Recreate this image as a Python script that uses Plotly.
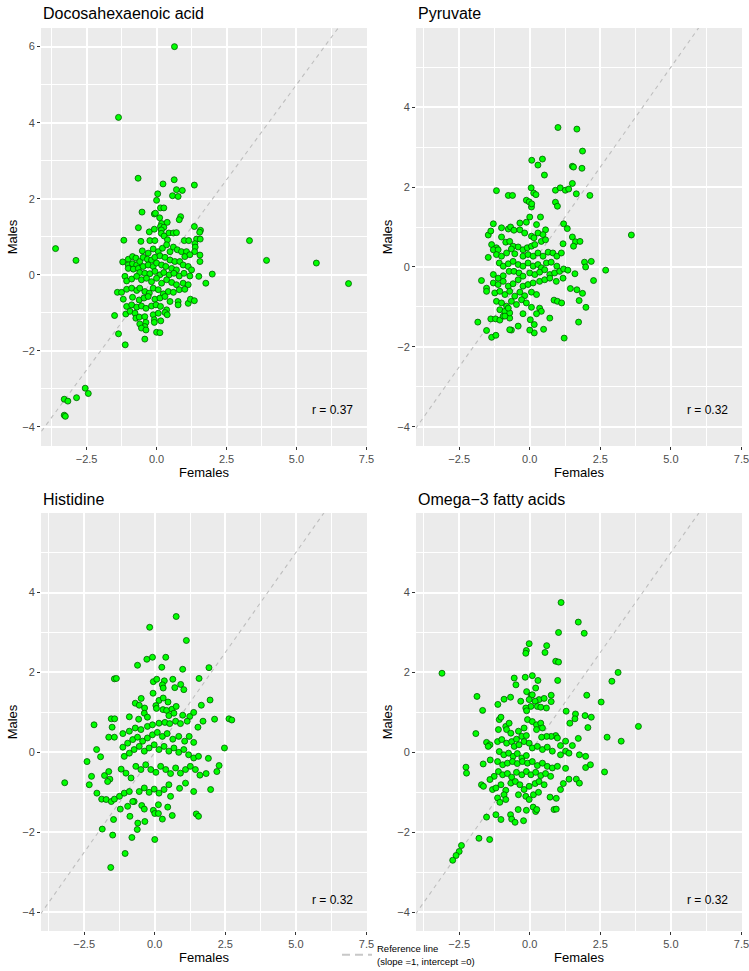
import plotly.graph_objects as go

W, H = 749, 971
FONT = "Liberation Sans, Arial, Helvetica, sans-serif"

# ---------------- data (Females, Males) ----------------
dha_points = [
    (-0.66, 2.54), (0.63, 2.5), (0.23, 2.39), (1.35, 2.36), (0.04, 2.13), (0.71, 2.24), (0.92, 2.22),
    (0.57, 2.08), (0.77, 2.06), (0.0, 1.96), (0.14, 1.76), (0.26, 1.76), (-0.52, 1.65), (-0.08, 1.6),
    (-0.04, 1.62), (0.11, 1.5), (0.86, 1.53), (0.81, 1.45), (0.18, 1.35), (0.38, 1.38), (0.14, 1.27),
    (0.26, 1.25), (-0.65, 1.24), (-0.26, 1.13), (-0.08, 1.2), (0.17, 1.18), (0.17, 1.09), (0.44, 1.1),
    (0.6, 1.1), (0.71, 1.11), (0.27, 1.02), (1.35, 1.27), (1.57, 1.17), (1.54, 1.12), (-1.17, 0.91),
    (-0.56, 0.88), (-0.24, 0.9), (-0.06, 0.9), (0.39, 0.92), (0.99, 0.9), (1.15, 0.9), (1.43, 0.94),
    (1.56, 0.94), (1.37, 0.82), (1.38, 0.73), (1.36, 0.61),
    (-0.51, 0.63), (-0.3, 0.57), (-0.12, 0.68), (0.06, 0.61), (0.21, 0.7), (0.36, 0.79), (0.48, 0.61),
    (0.6, 0.73), (0.74, 0.66), (0.89, 0.61), (1.07, 0.61), (1.01, 0.48), (1.19, 0.53), (1.55, 0.52),
    (1.55, 0.35), (-1.21, 0.34), (-1.01, 0.41), (-0.86, 0.48), (-0.74, 0.44), (-1.01, 0.26),
    (-0.86, 0.29), (-0.71, 0.26), (-1.01, 0.17), (-0.83, 0.15), (-0.65, 0.17),
    (-0.6, 0.35), (-0.48, 0.46), (-0.33, 0.41), (-0.18, 0.39), (-0.06, 0.46), (0.12, 0.5), (0.3, 0.46),
    (0.48, 0.39), (0.65, 0.35), (0.83, 0.35), (0.95, 0.26), (1.13, 0.22), (1.25, 0.13),
    (-0.48, 0.22), (-0.3, 0.26), (-0.12, 0.22), (0.0, 0.31), (0.18, 0.26), (0.33, 0.22), (0.54, 0.17),
    (0.71, 0.13), (-0.6, 0.06), (-0.42, 0.04), (-0.24, 0.03), (-0.06, 0.09), (0.12, 0.0), (0.26, 0.06),
    (0.45, 0.0), (0.62, 0.04), (0.81, -0.03), (0.98, 0.04), (1.19, -0.03), (1.51, -0.04), (1.99, 0.02),
    (-1.13, -0.04), (-1.07, -0.16), (-0.89, -0.11),
    (-0.71, -0.04), (-0.54, -0.13), (-0.36, -0.09), (-0.18, -0.18), (0.0, -0.09), (0.18, -0.22),
    (0.36, -0.13), (0.54, -0.2), (0.71, -0.26), (0.95, -0.22), (1.13, -0.26), (1.76, -0.22),
    (-1.4, -0.46), (-1.25, -0.46),
    (-1.07, -0.38), (-0.89, -0.35), (-0.71, -0.41), (-0.6, -0.35), (-0.42, -0.44), (-0.26, -0.48),
    (-0.12, -0.35), (0.06, -0.39), (0.24, -0.5), (0.42, -0.44), (0.6, -0.46), (0.81, -0.39), (1.01, -0.38),
    (-1.19, -0.64), (-0.86, -0.59), (-0.62, -0.66), (-0.45, -0.61), (-0.3, -0.57), (-0.06, -0.64),
    (0.12, -0.61), (0.3, -0.57), (0.48, -0.7),
    (0.77, -0.7), (0.77, -0.79), (1.13, -0.75), (1.21, -0.64), (1.35, -0.68),
    (-1.07, -0.83), (-0.89, -0.79), (-0.71, -0.85), (-0.54, -0.82), (-0.38, -0.88), (-0.18, -0.82),
    (-0.02, -0.79), (0.14, -0.83), (0.36, -0.92),
    (-1.1, -1.03), (-0.95, -0.96), (-0.77, -1.01), (-0.12, -1.05), (0.06, -1.01), (0.3, -0.99), (0.38, -1.05),
    (-1.5, -1.07), (-0.74, -1.14), (-0.62, -1.11), (-0.42, -1.1), (-0.08, -1.18),
    (-0.38, -1.25), (-0.6, -1.29), (-0.42, -1.36), (-0.54, -1.4), (-0.38, -1.45),
    (-0.08, -1.25), (0.15, -1.21), (0.0, -1.51), (0.12, -1.52), (-1.36, -1.55), (-0.42, -1.69), (-1.12, -1.84),
    (0.64, 6.0), (-1.36, 4.14), (-3.61, 0.69), (-2.88, 0.38), (3.32, 0.9), (3.93, 0.38), (5.71, 0.31),
    (6.86, -0.23), (-3.3, -3.27), (-3.17, -3.32), (-2.86, -3.23), (-2.55, -2.98), (-2.44, -3.12),
    (-3.3, -3.69), (-3.26, -3.72),
]

pyruvate_points = [
    (1.0, 3.49), (1.67, 3.45), (1.87, 2.9), (0.07, 2.67), (0.45, 2.7), (0.29, 2.55), (1.51, 2.52),
    (1.55, 2.5), (1.85, 2.47), (0.52, 2.3), (1.51, 2.09), (-1.18, 1.91), (-0.76, 1.79), (-0.61, 1.79),
    (0.05, 1.98), (0.14, 1.85), (0.22, 1.81), (0.91, 1.92), (1.08, 1.98), (1.26, 1.92), (1.38, 1.95),
    (1.65, 1.83), (2.13, 1.79), (-0.12, 1.67), (-0.02, 1.63), (0.06, 1.5), (0.07, 1.58), (0.91, 1.62),
    (0.98, 1.52), (1.2, 1.08), (1.33, 0.96), (3.6, 0.8), (1.51, 0.75), (1.62, 0.63), (1.78, 0.64),
    (1.55, 0.52), (1.18, 0.58), (1.94, 0.12), (2.18, 0.14), (1.98, 0.0), (2.69, -0.08), (1.6, -0.17),
    (2.26, -0.34), (1.44, -0.54), (1.67, -0.57), (1.87, -0.66), (1.75, -0.84), (1.99, -1.01),
    (0.86, -0.83), (0.98, -0.86), (1.13, -0.9), (1.73, -1.38), (1.22, -1.78), (0.71, -1.28),
    (0.49, -1.56), (0.16, -1.44), (0.16, -1.65), (0.0, -1.58), (-1.84, -1.38), (-1.53, -1.59),
    (-1.35, -1.76), (-1.2, -1.71), (-1.38, -1.3), (-1.21, -1.3), (-1.06, -1.33), (-0.94, -1.23),
    (-0.71, -1.28), (-0.65, -1.58), (-0.41, -1.48), (-0.24, -1.17), (-1.71, -0.34), (-1.53, -0.53),
    (-1.53, -0.61), (-1.47, 0.24), (-1.47, 0.8), (-1.38, 0.9), (-1.29, 1.08), (-1.0, 0.98),
    (-0.76, 0.95), (-0.68, 1.0), (-0.56, 0.92), (-1.35, 0.56), (-1.18, 0.48), (-1.0, 0.75),
    (-0.85, 0.62), (-0.71, 0.64), (-0.59, 0.52), (-0.35, 1.1), (-0.12, 1.12), (0.0, 1.25), (0.24, 1.06),
    (0.38, 1.25), (0.56, 0.93), (-0.35, 0.93), (-0.18, 0.85), (0.06, 0.77), (0.15, 0.73), (0.29, 0.85),
    (0.47, 0.81), (-0.41, 0.5), (-0.24, 0.43), (-0.09, 0.48), (0.06, 0.52), (0.18, 0.56), (0.41, 0.64),
    (0.56, 0.68), (-1.29, 0.43), (-1.12, 0.43), (-1.18, 0.31), (-1.0, 0.27), (-0.82, 0.35), (-0.65, 0.45),
    (-0.53, 0.33), (-0.24, 0.27), (-0.06, 0.31), (0.12, 0.27), (0.29, 0.35), (0.47, 0.27), (0.65, 0.37),
    (0.82, 0.35), (0.96, 0.27), (1.12, 0.35), (-1.08, 0.1), (-0.94, 0.02), (-0.76, 0.08), (-0.59, 0.14),
    (-0.41, 0.06), (-0.24, 0.02), (-0.06, 0.1), (0.12, 0.02), (0.29, 0.06), (0.41, -0.02), (0.59, 0.1),
    (0.76, 0.12), (0.96, 0.02), (-1.29, -0.19), (-1.12, -0.28), (-0.94, -0.22), (-0.73, -0.11),
    (-0.56, -0.11), (-0.38, -0.15), (-0.24, -0.23), (0.0, -0.15), (0.18, -0.19), (0.35, -0.13),
    (0.53, -0.07), (0.71, -0.19), (0.88, -0.15), (1.06, -0.11), (1.2, -0.05), (1.35, -0.08),
    (-1.29, -0.4), (-1.12, -0.44), (-0.94, -0.36), (-0.76, -0.48), (-0.59, -0.42), (-0.41, -0.32),
    (-0.24, -0.48), (-0.06, -0.44), (0.12, -0.4), (0.35, -0.36), (0.53, -0.32), (0.71, -0.28),
    (0.94, -0.36), (1.18, -0.28), (-1.24, -0.65), (-1.06, -0.61), (-0.88, -0.69), (-0.71, -0.61),
    (-0.53, -0.73), (-0.35, -0.63), (-0.18, -0.72), (0.06, -0.63), (0.24, -0.69), (-1.18, -0.86),
    (-1.0, -0.9), (-0.82, -0.98), (-0.65, -0.86), (-0.47, -0.94), (-0.29, -0.82), (-0.12, -0.9),
    (0.06, -1.01), (0.35, -1.03), (-1.06, -1.07), (-0.88, -1.11), (-0.71, -1.15), (-0.88, -1.23),
    (-0.76, -1.03), (0.41, -1.11), (-0.71, -1.57), (0.02, -1.32), (0.24, -1.17),
]

histidine_points = [
    (0.76, 3.4), (-0.18, 3.13), (1.12, 2.8), (-0.61, 2.18), (-0.28, 2.33), (-0.08, 2.38), (0.39, 2.38),
    (0.25, 2.13), (0.99, 2.08), (1.92, 2.12), (-1.43, 1.84), (-1.36, 1.85), (-0.05, 1.77), (0.07, 1.83),
    (0.34, 1.79), (0.64, 1.83), (0.27, 1.69), (0.3, 1.61), (0.71, 1.62), (0.92, 1.7), (1.03, 1.57),
    (1.57, 1.85), (-0.06, 1.48), (-0.48, 1.35), (0.15, 1.3), (0.3, 1.36), (0.47, 1.26), (-0.69, 1.23),
    (-0.55, 1.18), (-0.36, 1.11), (0.04, 1.17), (0.06, 1.1), (1.96, 1.31), (1.65, 1.18), (0.29, 1.07),
    (0.42, 1.05), (0.61, 1.08), (0.76, 1.15), (-2.15, 0.69), (-1.54, 0.84), (-1.42, 0.84), (-1.51, 0.63),
    (-0.9, 0.89), (-0.57, 0.83), (-0.37, 0.98), (-0.26, 0.88), (0.5, 0.92), (0.68, 0.98), (0.99, 0.93),
    (1.24, 0.9), (1.38, 1.0), (1.71, 0.78), (2.12, 0.83), (2.63, 0.84), (2.73, 0.81), (1.53, 0.63),
    (2.47, 0.11), (-1.63, 0.38), (-1.43, 0.38), (-1.13, 0.47), (-0.9, 0.53), (-0.69, 0.61), (-0.49, 0.57),
    (-0.26, 0.65), (-0.08, 0.69), (0.15, 0.73), (0.36, 0.75), (0.53, 0.72), (0.74, 0.78), (0.91, 0.72),
    (1.15, 0.78), (-2.06, 0.07), (-1.92, -0.11), (-2.4, -0.23),
    (-1.13, 0.13), (-0.96, 0.23), (-0.78, 0.32), (-0.61, 0.38), (-0.43, 0.28), (-0.26, 0.36), (-0.08, 0.44),
    (0.09, 0.5), (0.27, 0.4), (0.44, 0.47), (0.64, 0.33), (0.85, 0.4), (1.06, 0.28), (1.22, 0.4), (1.38, 0.25),
    (-1.08, -0.1), (-0.9, -0.02), (-0.73, 0.07), (-0.55, 0.15), (-0.37, 0.03), (-0.2, 0.11), (-0.02, 0.19),
    (0.15, 0.07), (0.33, 0.15), (0.5, 0.03), (0.68, 0.11), (0.85, 0.0), (1.03, 0.07), (1.2, -0.06),
    (1.38, -0.14), (1.55, -0.1), (1.9, -0.15), (2.28, -0.33), (2.2, -0.48), (1.82, -0.53), (1.6, -0.57),
    (-2.24, -0.6), (-2.32, -0.81), (-1.78, -0.58), (-1.63, -0.48), (-1.59, -0.67), (-1.67, -0.73),
    (-1.19, -0.42), (-1.02, -0.52), (-0.84, -0.64), (-0.67, -0.35), (-0.49, -0.43), (-0.32, -0.31),
    (-0.14, -0.43), (0.04, -0.5), (0.21, -0.35), (0.39, -0.43), (0.56, -0.53), (0.74, -0.39),
    (0.91, -0.52), (1.09, -0.43), (1.26, -0.35), (1.44, -0.43),
    (-2.05, -1.02), (-1.88, -1.17), (-1.72, -1.18), (-1.54, -1.23), (-1.43, -1.17), (-1.25, -1.1),
    (-1.08, -1.02), (-0.9, -0.98), (-0.73, -1.23), (-0.55, -0.98), (-0.37, -0.89), (-0.2, -1.0),
    (-0.02, -0.92), (0.15, -1.02), (0.33, -0.93), (0.5, -0.81), (0.56, -1.1), (0.88, -0.9), (1.09, -0.77),
    (1.38, -0.98), (1.98, -0.93), (-1.22, -1.42), (-0.96, -1.35), (-0.78, -1.23), (-0.46, -1.33),
    (-0.37, -1.42), (-0.05, -1.45), (0.13, -1.31), (0.46, -1.37), (-1.46, -1.68), (-0.88, -1.6),
    (-0.6, -1.77), (-0.35, -1.73), (0.0, -1.53), (0.13, -1.53), (0.27, -1.67), (0.62, -1.58),
    (1.47, -1.54), (1.55, -1.6), (-1.86, -1.92), (-1.49, -2.07), (-0.81, -2.13), (-0.62, -1.93),
    (0.0, -2.18), (-1.05, -2.53), (-1.56, -2.88), (-3.19, -0.76),
]

omega3_points = [
    (1.11, 3.75), (1.72, 3.26), (1.02, 3.0), (1.93, 2.98), (-0.02, 2.72), (-0.12, 2.55), (-0.14, 2.48),
    (0.6, 2.67), (0.54, 2.5), (0.92, 2.28), (1.02, 2.26), (-3.11, 1.98), (3.13, 2.0), (2.91, 1.78),
    (-0.55, 1.86), (-0.16, 1.88), (0.09, 1.92), (0.29, 1.8), (0.99, 1.8), (-0.49, 1.69), (0.21, 1.61),
    (-1.87, 1.4), (-0.11, 1.52), (0.05, 1.43), (2.02, 1.43), (-1.67, 1.05), (-1.13, 1.2), (-0.91, 1.33),
    (-0.68, 1.38), (-0.32, 1.28), (0.09, 1.44), (0.33, 1.32), (0.51, 1.35), (0.76, 1.43), (0.76, 1.27),
    (-0.02, 1.32), (0.19, 1.28), (0.27, 1.15), (0.04, 1.15), (-0.14, 1.11), (0.39, 1.13), (0.59, 1.11),
    (2.53, 1.26), (1.29, 1.03), (1.62, 0.96), (1.6, 0.84), (1.96, 0.92), (2.18, 0.88), (1.42, 0.73),
    (-1.91, 0.47), (-1.08, 0.82), (-1.02, 0.88), (-1.11, 0.57), (-0.85, 0.65), (-0.73, 0.73),
    (-0.82, 0.57), (-0.67, 0.48), (-0.4, 0.53), (-0.2, 0.61), (-0.08, 0.82), (-0.11, 1.04), (0.09, 0.77),
    (0.24, 0.69), (0.39, 0.73), (0.24, 0.57), (0.45, 0.61), (0.92, 0.42), (0.76, 0.4), (0.6, 0.4),
    (0.42, 0.38), (2.06, 0.62), (2.74, 0.38), (3.24, 0.28), (3.85, 0.65), (1.72, 0.35), (1.51, 0.17),
    (1.27, 0.28), (1.09, 0.17), (0.98, 0.36), (-1.53, 0.25), (-1.41, 0.19), (-1.47, 0.15),
    (-1.14, 0.27), (-0.99, 0.32), (-0.82, 0.23), (-0.64, 0.27), (-0.47, 0.33), (-0.28, 0.4), (-0.12, 0.42),
    (-0.55, 0.15), (-0.38, 0.19), (-0.2, 0.27), (-0.02, 0.23), (0.09, 0.11), (0.27, 0.15), (0.45, 0.07),
    (0.62, 0.13), (0.8, 0.03), (1.09, -0.06), (1.27, 0.03), (1.39, -0.02), (1.76, -0.06), (1.98, -0.1),
    (-1.4, -0.19), (-1.08, 0.02), (-0.92, -0.06), (-0.75, -0.02), (-0.59, -0.1), (-0.44, -0.03),
    (-0.28, -0.14), (-0.12, -0.08), (-2.26, -0.37), (-2.24, -0.52), (-1.65, -0.29),
    (-1.14, -0.23), (-0.96, -0.31), (-0.79, -0.27), (-0.61, -0.23), (-0.44, -0.28), (-0.26, -0.23),
    (-0.08, -0.27), (0.09, -0.23), (0.27, -0.33), (0.45, -0.27), (0.62, -0.35), (0.8, -0.39), (0.98, -0.35),
    (1.27, -0.4), (1.98, -0.38), (2.15, -0.31), (2.65, -0.49), (-1.71, -0.81), (-1.64, -0.85),
    (-1.26, -0.6), (-1.11, -0.48), (-0.96, -0.56), (-0.79, -0.53), (-0.64, -0.62), (-0.47, -0.5),
    (-0.28, -0.56), (-0.12, -0.48), (0.04, -0.56), (0.21, -0.5), (0.39, -0.58), (0.56, -0.53), (0.74, -0.6),
    (1.39, -0.67), (1.65, -0.67), (1.76, -0.77), (1.19, -0.78),
    (-1.41, -0.68), (-1.32, -0.93), (-1.2, -0.89), (-1.02, -0.81), (-0.85, -0.95), (-0.67, -0.77),
    (-0.51, -0.73), (-0.35, -0.81), (-0.2, -0.93), (-0.02, -0.85), (0.19, -0.78), (0.33, -0.73),
    (0.51, -0.81), (1.09, -0.93), (-1.14, -1.14), (-1.06, -1.25), (-0.91, -1.06), (-0.85, -1.18),
    (-0.4, -1.06), (-0.14, -1.1), (-0.02, -1.18), (0.13, -1.06), (0.31, -1.0), (0.72, -1.12),
    (0.94, -1.15), (0.86, -1.43), (0.94, -1.42), (-1.53, -1.62), (-1.2, -1.56), (-1.02, -1.68),
    (-0.68, -1.56), (-0.64, -1.67), (-0.52, -1.75), (-0.41, -1.43), (-0.22, -1.71), (-0.12, -1.45),
    (0.12, -1.37), (0.21, -1.48), (0.25, -1.43), (-1.8, -2.15), (-1.42, -2.18), (-2.42, -2.33),
    (-2.5, -2.48), (-2.61, -2.58), (-2.73, -2.7),
]

titles = ["Docosahexaenoic acid", "Pyruvate", "Histidine", "Omega\u22123 fatty acids"]
r_labels = ["r = 0.37", "r = 0.32", "r = 0.32", "r = 0.32"]
x_tickvals = [-2.5, 0.0, 2.5, 5.0, 7.5]
x_ticktext = ["\u22122.5", "0.0", "2.5", "5.0", "7.5"]
x_minor = [-3.75, -1.25, 1.25, 3.75, 6.25]
y_tickvals_dha = [-4, -2, 0, 2, 4, 6]
y_tickvals = [-4, -2, 0, 2, 4]
y_minor = [-3, -1, 1, 3, 5]
SLOPE, INTERCEPT = 1.0, 0.0
legend_label = "Reference line<br>(slope =1, intercept =0)"


def fx(px):
    return px / W


def fy(py):
    return 1 - py / H


# ---------------- layout geometry (window pixels) ----------------
panels = [
    dict(pts=dha_points, xr=[-4.13, 7.52], yr=[-4.5, 6.49], ytv=y_tickvals_dha, px=(41, 367), py=(28, 446)),
    dict(pts=pyruvate_points, xr=[-4.03, 7.52], yr=[-4.48, 5.98], ytv=y_tickvals, px=(416, 742), py=(28, 446)),
    dict(pts=histidine_points, xr=[-4.03, 7.52], yr=[-4.47, 5.99], ytv=y_tickvals, px=(41, 367), py=(513, 931)),
    dict(pts=omega3_points, xr=[-4.03, 7.52], yr=[-4.47, 5.99], ytv=y_tickvals, px=(416, 742), py=(513, 931)),
]
title_y = [12.5, 12.5, 498, 498]
r_y = [0.086, 0.086, 0.074, 0.074]

fig = go.Figure()
layout = dict(
    width=W, height=H, margin=dict(l=0, r=0, t=0, b=0, autoexpand=False),
    paper_bgcolor="white", plot_bgcolor="#EBEBEB",
    font=dict(family=FONT, color="black"),
    showlegend=True,
    legend=dict(x=fx(379 - 42), xanchor="left", y=fy(955), yanchor="middle",
                font=dict(size=9.5, family=FONT, color="black"), bgcolor="rgba(0,0,0,0)",
                borderwidth=0, itemwidth=30),
    annotations=[],
)

for i, p in enumerate(panels):
    n = "" if i == 0 else str(i + 1)
    xa, ya = "x" + n, "y" + n
    xs = [pt[0] for pt in p["pts"]]
    ys = [pt[1] for pt in p["pts"]]
    x0, x1 = p["xr"][0] - 1, p["xr"][1] + 1
    fig.add_trace(go.Scatter(x=[x0, x1], y=[SLOPE * x0 + INTERCEPT, SLOPE * x1 + INTERCEPT], mode="lines",
                             line=dict(color="#BEBEBE", width=1.1, dash="4px,4px"),
                             xaxis=xa, yaxis=ya, showlegend=False, hoverinfo="skip"))
    fig.add_trace(go.Scatter(x=xs, y=ys, mode="markers",
                             marker=dict(size=6, color="#00FF00", line=dict(color="#005A00", width=0.8)),
                             xaxis=xa, yaxis=ya, showlegend=False))
    dom_x = [fx(p["px"][0]), fx(p["px"][1])]
    dom_y = [fy(p["py"][1]), fy(p["py"][0])]
    common = dict(ticks="outside", ticklen=3, tickwidth=1, tickcolor="#333333",
                  tickfont=dict(size=11, color="#4D4D4D", family=FONT), automargin=False,
                  ticklabeloverflow="allow",
                  showgrid=True, gridcolor="white", gridwidth=1.5, zeroline=False, showline=False)
    layout["xaxis" + n] = dict(domain=dom_x, range=p["xr"], anchor=ya, tickmode="array",
                               tickvals=x_tickvals, ticktext=x_ticktext,
                               minor=dict(tickmode="array", tickvals=x_minor, showgrid=True,
                                          gridcolor="white", gridwidth=0.7, ticks=""),
                               title=dict(text="Females", font=dict(size=13, color="black", family=FONT), standoff=2),
                               **common)
    yt = [("\u2212" + str(abs(v))) if v < 0 else str(v) for v in p["ytv"]]
    layout["yaxis" + n] = dict(domain=dom_y, range=p["yr"], anchor=xa, tickmode="array",
                               tickvals=p["ytv"], ticktext=yt,
                               minor=dict(tickmode="array", tickvals=y_minor, showgrid=True,
                                          gridcolor="white", gridwidth=0.7, ticks=""),
                               title=dict(text="Males", font=dict(size=13, color="black", family=FONT), standoff=1),
                               **common)
    layout["annotations"].append(dict(text=titles[i], xref="paper", yref="paper", x=fx(p["px"][0]),
                                      y=fy(title_y[i] + 1), xanchor="left", yanchor="middle",
                                      showarrow=False, font=dict(size=16, color="black", family=FONT)))
    layout["annotations"].append(dict(text=r_labels[i], xref=xa + " domain", yref=ya + " domain",
                                      x=0.894, y=r_y[i], xanchor="center", yanchor="middle",
                                      showarrow=False, font=dict(size=12, color="black", family=FONT)))

fig.add_trace(go.Scatter(x=[None], y=[None], mode="lines", name=legend_label,
                         line=dict(color="#C8C8C8", width=2, dash="8px,5px"),
                         xaxis="x4", yaxis="y4", showlegend=True, hoverinfo="skip"))

fig.update_layout(**layout)
fig.write_html("out.html", config={"displayModeBar": False},
               post_script="document.body.style.margin='0px';document.body.style.overflow='hidden';")
